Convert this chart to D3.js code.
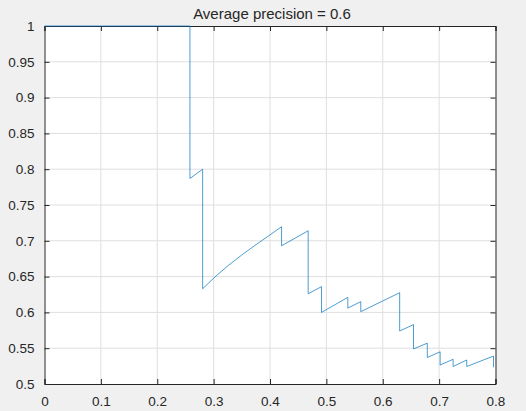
<!DOCTYPE html>
<html>
<head>
<meta charset="utf-8" />
<title>Average precision</title>
<script src="https://d3js.org/d3.v7.min.js"></script>
<style>
  body { margin: 0; background: #f0f0f0; }
  svg text { font-family: Helvetica, Arial, "Liberation Sans", sans-serif; fill: #262626; }
  .axis path, .axis line { stroke: #262626; }
  .grid line { stroke: #dfdfdf; }
</style>
</head>
<body>
<svg width="526" height="411"></svg>
<script>
    // values
    var recall = [0, 0.258, 0.258, 0.2805, 0.2805, 0.3023, 0.3259, 0.3496, 0.3732, 0.3968, 0.4205, 0.4205,
        0.4677, 0.4677, 0.4914, 0.4914, 0.538, 0.538, 0.561, 0.561, 0.630, 0.630, 0.6546, 0.6546,
        0.679, 0.679, 0.7018, 0.7018, 0.7248, 0.7248, 0.749, 0.749, 0.7965, 0.7965];
    var precision = [1, 1, 0.787, 0.80, 0.633, 0.6495, 0.6655, 0.680, 0.6935, 0.7065, 0.7197, 0.693,
        0.714, 0.626, 0.636, 0.600, 0.621, 0.606, 0.615, 0.601, 0.6275, 0.574, 0.583, 0.549,
        0.557, 0.537, 0.545, 0.5265, 0.5345, 0.5244, 0.5335, 0.5244, 0.539, 0.5233];
    var xTicks = [0, 0.1, 0.2, 0.3, 0.4, 0.5, 0.6, 0.7, 0.8];
    var yTicks = [0.5, 0.55, 0.6, 0.65, 0.7, 0.75, 0.8, 0.85, 0.9, 0.95, 1];
    var title = "Average precision = 0.6";

    // plot box (window.top is reserved, so no "top" name here)
    var boxL = 44.5, boxR = 495.5, boxT = 26, boxB = 384;

    var svg = d3.select("svg");

    var x = d3.scaleLinear().domain([0, 0.8]).range([boxL, boxR]);
    var y = d3.scaleLinear().domain([0.5, 1]).range([boxB, boxT]);

    var fmt = function (d) { return String(+d.toFixed(2)); };

    // white plot area
    svg.append("rect")
        .attr("x", boxL).attr("y", boxT)
        .attr("width", boxR - boxL).attr("height", boxB - boxT)
        .attr("fill", "white");

    // grid
    var grid = svg.append("g").attr("class", "grid");
    grid.selectAll(".gx").data(xTicks.slice(1, -1)).enter().append("line")
        .attr("x1", x).attr("x2", x)
        .attr("y1", boxT).attr("y2", boxB);
    grid.selectAll(".gy").data(yTicks.slice(1, -1)).enter().append("line")
        .attr("y1", y).attr("y2", y)
        .attr("x1", boxL).attr("x2", boxR);

    // axes, ticks pointing inward on all four sides
    svg.append("g").attr("class", "axis")
        .attr("transform", "translate(0," + boxB + ")")
        .call(d3.axisBottom(x).tickValues(xTicks).tickSize(-5).tickPadding(12).tickFormat(fmt))
        .call(function (g) { g.selectAll("text").style("font-size", "13.5px"); });
    svg.append("g").attr("class", "axis")
        .attr("transform", "translate(0," + boxT + ")")
        .call(d3.axisTop(x).tickValues(xTicks).tickSize(-5).tickFormat(""));
    svg.append("g").attr("class", "axis")
        .attr("transform", "translate(" + boxL + ",0)")
        .call(d3.axisLeft(y).tickValues(yTicks).tickSize(-5).tickPadding(10).tickFormat(fmt))
        .call(function (g) { g.selectAll("text").style("font-size", "13.5px"); });
    svg.append("g").attr("class", "axis")
        .attr("transform", "translate(" + boxR + ",0)")
        .call(d3.axisRight(y).tickValues(yTicks).tickSize(-5).tickFormat(""));

    svg.selectAll(".axis .domain").attr("stroke-width", 1);

    // precision-recall curve
    var pts = recall.map(function (r, i) { return [r, precision[i]]; });
    svg.append("path")
        .datum(pts)
        .attr("fill", "none")
        .attr("stroke", "#0072bd")
        .attr("stroke-width", 0.7)
        .attr("d", d3.line().x(function (d) { return x(d[0]); }).y(function (d) { return y(d[1]); }));

    svg.append("text")
        .attr("x", (boxL + boxR) / 2 + 2)
        .attr("y", 19)
        .attr("text-anchor", "middle")
        .style("font-size", "15px")
        .text(title);
</script>
</body>
</html>
